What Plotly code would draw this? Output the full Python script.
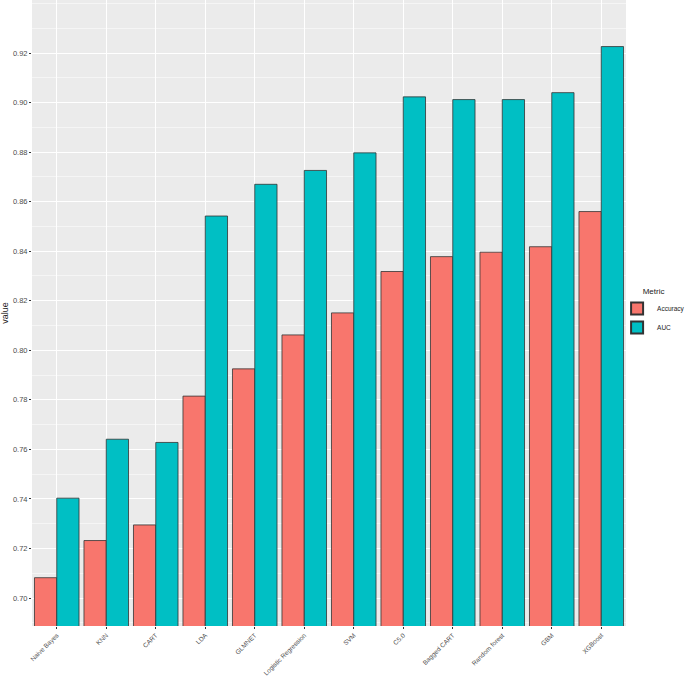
import plotly.graph_objects as go

models = ["Naive Bayes", "KNN", "CART", "LDA", "GLMNET", "Logistic Regression",
          "SVM", "C5.0", "Bagged CART", "Random forest", "GBM", "XGBoost"]
accuracy = [0.7082, 0.7232, 0.7295, 0.7815, 0.7925, 0.8062,
            0.8151, 0.8318, 0.8378, 0.8396, 0.8418, 0.8560]
auc = [0.7403, 0.7641, 0.7628, 0.8542, 0.8670, 0.8726,
       0.8797, 0.9023, 0.9012, 0.9012, 0.9040, 0.9226]
y_ticks = [0.70, 0.72, 0.74, 0.76, 0.78, 0.80, 0.82, 0.84, 0.86, 0.88, 0.90, 0.92]

fig = go.Figure()
fig.add_trace(go.Bar(x=models, y=accuracy, name="Accuracy", marker_color="#F8766D",
                     marker_line=dict(color="#333333", width=0.8)))
fig.add_trace(go.Bar(x=models, y=auc, name="AUC", marker_color="#00BFC4",
                     marker_line=dict(color="#333333", width=0.8)))

fig.update_layout(
    width=685, height=678,
    barmode="group", bargap=0.1, bargroupgap=0,
    plot_bgcolor="#EBEBEB", paper_bgcolor="white",
    margin=dict(l=32, r=59, t=0, b=52, autoexpand=False),
    font=dict(family="Liberation Sans, Arial, sans-serif", color="#4D4D4D"),
    legend=dict(title=dict(text="Metric", side="top center", font=dict(size=8, color="#222")),
                x=0.985, xanchor="left", y=0.50, yanchor="middle",
                font=dict(size=6.5, color="#222"), itemsizing="constant",
                itemwidth=30, tracegroupgap=0, bgcolor="rgba(0,0,0,0)"),
)
fig.update_xaxes(tickangle=-45, tickfont=dict(size=6.5, color="#4D4D4D"),
                 showgrid=True, gridcolor="white", gridwidth=1, automargin=False,
                 ticks="outside", ticklen=2, tickcolor="#333333", linecolor="rgba(0,0,0,0)")
fig.update_yaxes(range=[0.6887, 0.9414], tickvals=y_ticks,
                 ticktext=[f"{v:.2f}" for v in y_ticks],
                 tickfont=dict(size=7.5, color="#4D4D4D"), automargin=False,
                 showgrid=True, gridcolor="white", gridwidth=1,
                 minor=dict(dtick=0.01, tick0=0.69, showgrid=True, gridcolor="#F5F5F5", gridwidth=0.6),
                 ticks="outside", ticklen=2, tickcolor="#333333",
                 title=dict(text="value", font=dict(size=9, color="#222"), standoff=2),
                 zeroline=False)

fig.write_html("out.html", config={"displayModeBar": False},
               post_script="document.body.style.margin='0px';")
